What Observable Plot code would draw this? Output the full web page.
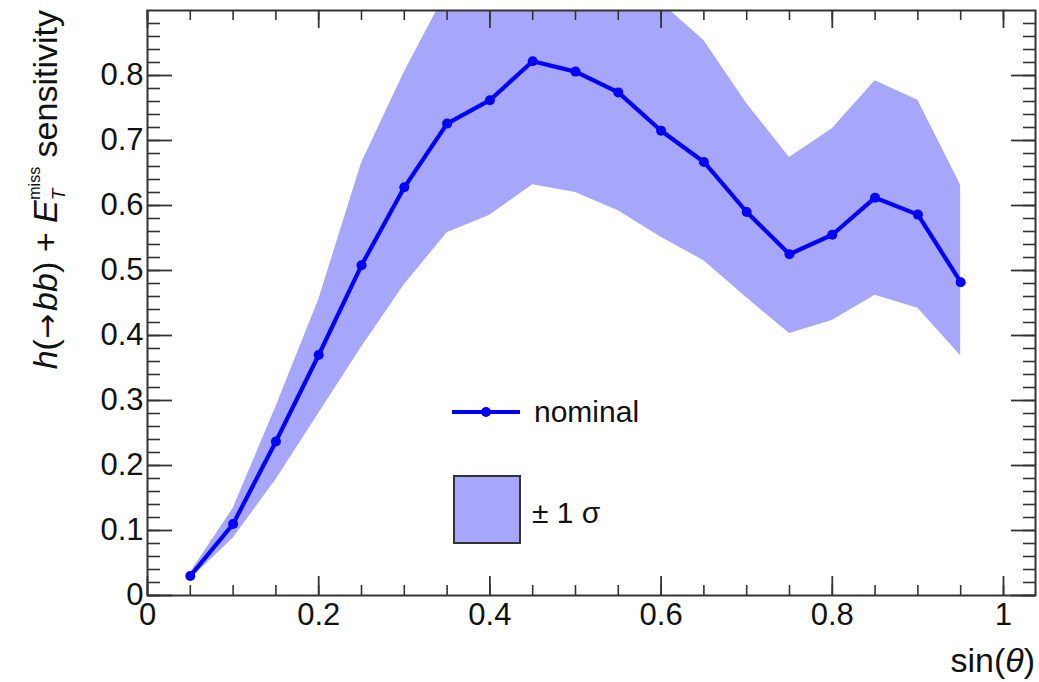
<!DOCTYPE html>
<html><head><meta charset="utf-8">
<script src="https://cdn.jsdelivr.net/npm/d3@7"></script>
<script src="https://cdn.jsdelivr.net/npm/@observablehq/plot@0.6"></script>
<style>
body{margin:0;background:#fff}
#chart{position:relative;width:1039px;height:682px}
</style>
</head><body><div id="chart"></div>
<script>
const sinTheta = [0.05,0.10,0.15,0.20,0.25,0.30,0.35,0.40,0.45,0.50,0.55,0.60,0.65,0.70,0.75,0.80,0.85,0.90,0.95];
const nominal  = [0.030,0.110,0.237,0.370,0.508,0.628,0.726,0.762,0.822,0.806,0.774,0.715,0.667,0.590,0.525,0.555,0.612,0.586,0.482];
const upper    = [0.035,0.134,0.290,0.455,0.665,0.805,0.930,0.960,0.980,0.970,0.950,0.912,0.854,0.757,0.674,0.718,0.792,0.762,0.631];
const lower    = [0.025,0.088,0.178,0.280,0.382,0.478,0.558,0.585,0.632,0.620,0.592,0.551,0.515,0.458,0.403,0.423,0.462,0.442,0.369];
const xTicks = [0,0.2,0.4,0.6,0.8,1];
const yTicks = [0,0.1,0.2,0.3,0.4,0.5,0.6,0.7,0.8];
const xMinor = d3.range(0, 1.03, 0.05);
const yMinor = d3.range(0, 0.9, 0.02);
const legendLabels = ["nominal", "\u00b1 1 \u03c3"];

const W = 1039, H = 682;
const mL = 147, mR = 4, mT = 10, mB = 87;
const pw = W - mL - mR, ph = H - mT - mB;
const lineColor = "#0000ff", bandColor = "#a6a6fb", axisColor = "#333", textColor = "#111";
const data = sinTheta.map((x, i) => ({x, y: nominal[i], lo: lower[i], hi: upper[i]}));

const plot = Plot.plot({
  width: W, height: H,
  marginLeft: mL, marginRight: mR, marginTop: mT, marginBottom: mB,
  style: {fontFamily: "Liberation Sans, Arial, sans-serif", background: "#fff"},
  x: {domain: [0, 1.0374], axis: null},
  y: {domain: [0, 0.9], axis: null},
  marks: [
    Plot.areaY(data, {x: "x", y1: "lo", y2: "hi", fill: bandColor, clip: true}),
    Plot.line(data, {x: "x", y: "y", stroke: lineColor, strokeWidth: 4.2, clip: true}),
    Plot.dot(data, {x: "x", y: "y", r: 5, fill: lineColor, stroke: "none"}),
    // minor ticks
    Plot.tickY(yMinor, {y: d => d, stroke: axisColor, strokeWidth: 1.6, insetRight: pw - 13}),
    Plot.tickY(yMinor, {y: d => d, stroke: axisColor, strokeWidth: 1.6, insetLeft: pw - 12}),
    Plot.tickX(xMinor, {x: d => d, stroke: axisColor, strokeWidth: 1.6, insetTop: ph - 10}),
    Plot.tickX(xMinor, {x: d => d, stroke: axisColor, strokeWidth: 1.6, insetBottom: ph - 10}),
    // major ticks
    Plot.tickY(yTicks, {y: d => d, stroke: axisColor, strokeWidth: 1.8, insetRight: pw - 25}),
    Plot.tickY(yTicks, {y: d => d, stroke: axisColor, strokeWidth: 1.8, insetLeft: pw - 24}),
    Plot.tickX(xTicks, {x: d => d, stroke: axisColor, strokeWidth: 1.8, insetTop: ph - 19}),
    Plot.tickX(xTicks, {x: d => d, stroke: axisColor, strokeWidth: 1.8, insetBottom: ph - 18}),
    Plot.axisX(xTicks, {tickSize: 0, tickPadding: 7, fontSize: 31, fill: textColor, tickFormat: d => d === 0 ? "0" : String(d), label: null}),
    Plot.axisY(yTicks, {tickSize: 0, tickPadding: 4, fontSize: 31, fill: textColor, tickFormat: d => d === 0 ? "0" : d3.format(".1f")(d), label: null}),
    Plot.frame({stroke: axisColor, strokeWidth: 2})
  ]
});
document.getElementById("chart").appendChild(plot);

const svg = d3.select(plot);
const font = "Liberation Sans, Arial, sans-serif";

// x-axis title
const xt = svg.append("text").attr("x", 1035).attr("y", 672).attr("text-anchor", "end")
  .attr("font-family", font).attr("font-size", 34).attr("fill", textColor);
xt.append("tspan").text("sin(");
xt.append("tspan").attr("font-style", "italic").text("\u03b8");
xt.append("tspan").text(")");

// y-axis title
const yt = svg.append("text").attr("transform", "translate(57,10) rotate(-90)").attr("text-anchor", "end")
  .attr("font-family", font).attr("font-size", 34).attr("fill", textColor);
yt.append("tspan").attr("font-style", "italic").text("h");
yt.append("tspan").text("(");
yt.append("tspan").attr("font-family", "DejaVu Sans").attr("font-size", 30).text("\u2192");
yt.append("tspan").attr("font-style", "italic").attr("dx", 3).text("bb");
yt.append("tspan").text(") + ");
yt.append("tspan").attr("font-style", "italic").text("E");
yt.append("tspan").attr("font-style", "italic").attr("font-size", 19).attr("dy", 8).text("T");
yt.append("tspan").attr("font-size", 16).attr("dx", -11).attr("dy", -25).text("miss");
yt.append("tspan").attr("dy", 17).text(" sensitivity");

// legend
const lg = svg.append("g").attr("font-family", font).attr("font-size", 30).attr("fill", textColor).attr("text-anchor", "start");
lg.append("line").attr("x1", 452).attr("x2", 520).attr("y1", 412).attr("y2", 412)
  .attr("stroke", lineColor).attr("stroke-width", 4.2);
lg.append("circle").attr("cx", 486).attr("cy", 412).attr("r", 5).attr("fill", lineColor);
lg.append("text").attr("x", 534).attr("y", 422).attr("text-anchor", "start").text(legendLabels[0]);
lg.append("rect").attr("x", 454).attr("y", 476).attr("width", 66).attr("height", 67)
  .attr("fill", bandColor).attr("stroke", axisColor).attr("stroke-width", 2);
lg.append("text").attr("x", 532).attr("y", 523).attr("text-anchor", "start").text(legendLabels[1]);
</script>
</body></html>
